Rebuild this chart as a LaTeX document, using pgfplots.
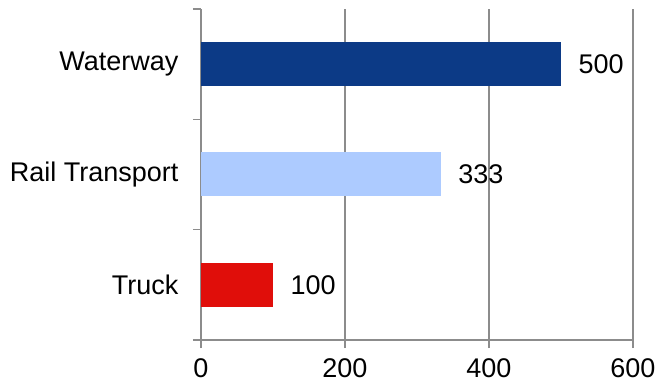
\documentclass[border=0pt]{standalone}
\usepackage{pgfplots}
\pgfplotsset{compat=1.18}
\usepackage{fontspec}
\setmainfont{Liberation Sans}
\definecolor{gridgray}{HTML}{8C8C8C}
\definecolor{cwater}{HTML}{0C3A86}
\definecolor{crail}{HTML}{ADCBFF}
\definecolor{ctruck}{HTML}{E00E0A}
\begin{document}
\begin{tikzpicture}
\useasboundingbox (-201bp,-47bp) rectangle (457bp,340bp);
\begin{axis}[
  at={(0,0)}, anchor=south west,
  scale only axis,
  width=432bp, height=331bp,
  xmin=0, xmax=600,
  ymin=0.5, ymax=3.5,
  xtick={0,200,400,600},
  ytick={0.5,1.5,2.5,3.5},
  yticklabels={},
  extra y ticks={1,2,3},
  extra y tick labels={Truck,Rail Transport,Waterway},
  extra y tick style={major tick length=0pt, grid=none,
     yticklabel style={font=\fontsize{27bp}{32bp}\selectfont, xshift=-19bp}},
  tick style={draw=gridgray, line width=1.5bp},
  tick align=outside,
  major tick length=8bp,
  xmajorgrids,
  grid style={draw=gridgray, line width=1.5bp},
  axis x line*=bottom,
  axis y line*=left,
  axis line style={draw=gridgray, line width=1.5bp, -},
  tick label style={font=\fontsize{27bp}{32bp}\selectfont},
  /pgf/number format/assume math mode=true,
  xticklabel style={yshift=-7bp},
  nodes near coords,
  every node near coord/.append style={font=\fontsize{27bp}{32bp}\selectfont, anchor=west, xshift=14bp, text=black},
  point meta=explicit symbolic,
  xbar, bar width=44bp, bar shift=0pt,
]
\addplot[fill=ctruck, draw=none] coordinates {(100,1) [100]};
\addplot[fill=crail, draw=none] coordinates {(333,2) [333]};
\addplot[fill=cwater, draw=none] coordinates {(500,3) [500]};
\end{axis}
\end{tikzpicture}
\end{document}
